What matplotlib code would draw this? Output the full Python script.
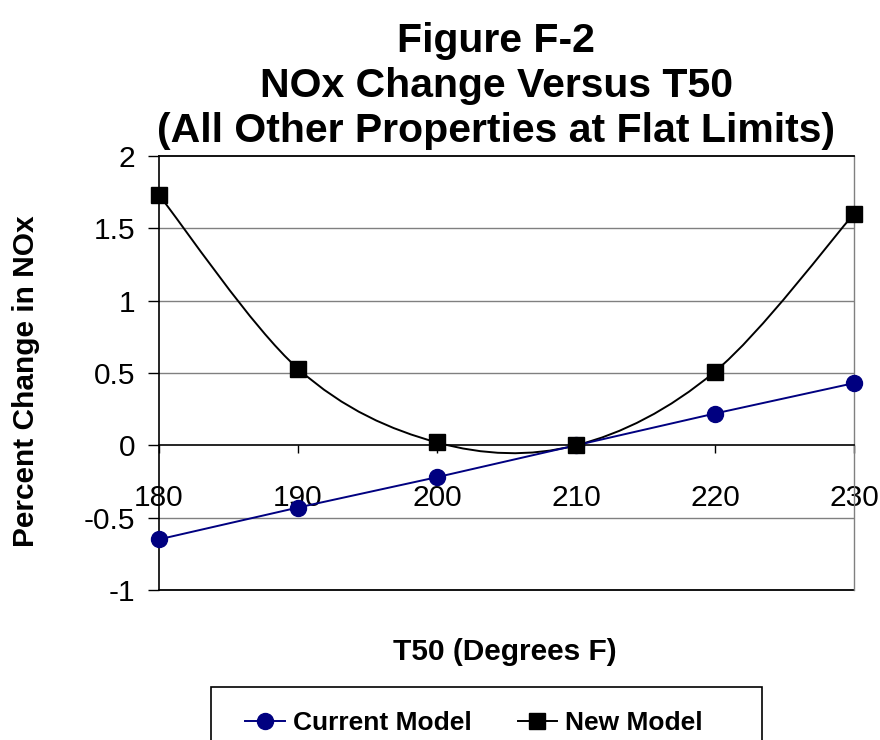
import numpy as np
import matplotlib
matplotlib.use("Agg")
import matplotlib.pyplot as plt
from matplotlib.path import Path
from matplotlib.patches import PathPatch, Rectangle
from matplotlib.lines import Line2D

plt.rcParams["font.family"] = ["Liberation Sans", "DejaVu Sans"]
plt.rcParams["axes.unicode_minus"] = False

# data
t50 = [180, 190, 200, 210, 220, 230]
current_model = [-0.65, -0.43, -0.22, 0.0, 0.22, 0.43]
new_model = [1.73, 0.53, 0.02, 0.0, 0.51, 1.60]

y_ticks = [-1, -0.5, 0, 0.5, 1, 1.5, 2]
y_tick_labels = ["-1", "-0.5", "0", "0.5", "1", "1.5", "2"]
x_ticks = [180, 190, 200, 210, 220, 230]

title_lines = ["Figure F-2", "NOx Change Versus T50",
               "(All Other Properties at Flat Limits)"]

W, H = 880, 740
fig = plt.figure(figsize=(8.8, 7.4), dpi=100)
fig.patch.set_facecolor("white")

ax = fig.add_axes([159 / W, 1 - 590 / H, (854 - 159) / W, (590 - 156) / H])
ax.set_xlim(180, 230)
ax.set_ylim(-1, 2)

# horizontal gridlines (gray)
for yv in [-0.5, 0.5, 1, 1.5]:
    ax.axhline(yv, color="#808080", lw=1.0, zorder=1)

ax.spines["top"].set_color("black")
ax.spines["top"].set_linewidth(1.3)
ax.spines["right"].set_color("#808080")
ax.spines["right"].set_linewidth(1.0)
ax.spines["left"].set_color("black")
ax.spines["left"].set_linewidth(1.2)
ax.spines["bottom"].set_position(("data", 0))
ax.spines["bottom"].set_color("black")
ax.spines["bottom"].set_linewidth(1.2)
# bottom border of plot area at -1
ax.axhline(-1, color="black", lw=1.3, zorder=2, clip_on=False)

ax.set_yticks(y_ticks)
ax.set_yticklabels(y_tick_labels)
ax.set_xticks(x_ticks)
ax.set_xticklabels([str(v) for v in x_ticks])
ax.tick_params(axis="y", direction="out", length=8, width=1, pad=9,
               labelsize=21.5, color="black")
ax.tick_params(axis="x", direction="out", length=6, width=1, pad=22,
               labelsize=21.5, color="black")

# current model - straight line
ax.plot(t50, current_model, color="#000080", lw=1.4, marker="o",
        markersize=11.5, zorder=4, clip_on=False)

# new model - smoothed line (bezier, excel style)
pts = np.column_stack([t50, new_model]).astype(float)
verts = [tuple(pts[0])]
codes = [Path.MOVETO]
n = len(pts)
for i in range(n - 1):
    p0 = pts[i - 1] if i > 0 else pts[i]
    p1 = pts[i]
    p2 = pts[i + 1]
    p3 = pts[i + 2] if i + 2 < n else pts[i + 1]
    c1 = p1 + (p2 - p0) / 6.0
    c2 = p2 - (p3 - p1) / 6.0
    verts += [tuple(c1), tuple(c2), tuple(p2)]
    codes += [Path.CURVE4, Path.CURVE4, Path.CURVE4]
curve = PathPatch(Path(verts, codes), fill=False, edgecolor="black",
                  lw=1.4, zorder=3, clip_on=False)
ax.add_patch(curve)
ax.plot(t50, new_model, linestyle="none", marker="s", color="black",
        markersize=11, zorder=5, clip_on=False)

# titles
title_base = [52, 97, 142]
for line, yb in zip(title_lines, title_base):
    fig.text(496 / W, 1 - yb / H, line, ha="center", va="baseline",
             fontsize=29.5, fontweight="bold")

fig.text(505 / W, 1 - 652 / H, "T50 (Degrees F)", ha="center",
         va="center", fontsize=21.5, fontweight="bold")
fig.text(26 / W, 1 - 381 / H, "Percent Change in NOx", ha="center",
         va="center", rotation=90, fontsize=21.5, fontweight="bold")

# legend box (cut off at the bottom edge like the original)
fig.add_artist(Rectangle((211 / W, 1 - 770 / H), (762 - 211) / W, 83 / H,
                         transform=fig.transFigure, facecolor="white",
                         edgecolor="black", lw=1.2, clip_on=False))
handles = [
    Line2D([], [], color="#000080", lw=1.4, marker="o", markersize=11.5),
    Line2D([], [], color="black", lw=1.4, marker="s", markersize=11),
]
fig.legend(handles, ["Current Model", "New Model"], ncol=2, frameon=False,
           loc="center left", bbox_to_anchor=(232 / W, 1 - 723 / H),
           borderpad=0, handlelength=1.5, handletextpad=0.3,
           columnspacing=1.75, numpoints=1,
           prop={"size": 19, "weight": "bold"})

fig.savefig("out.png", dpi=100, facecolor="white")
